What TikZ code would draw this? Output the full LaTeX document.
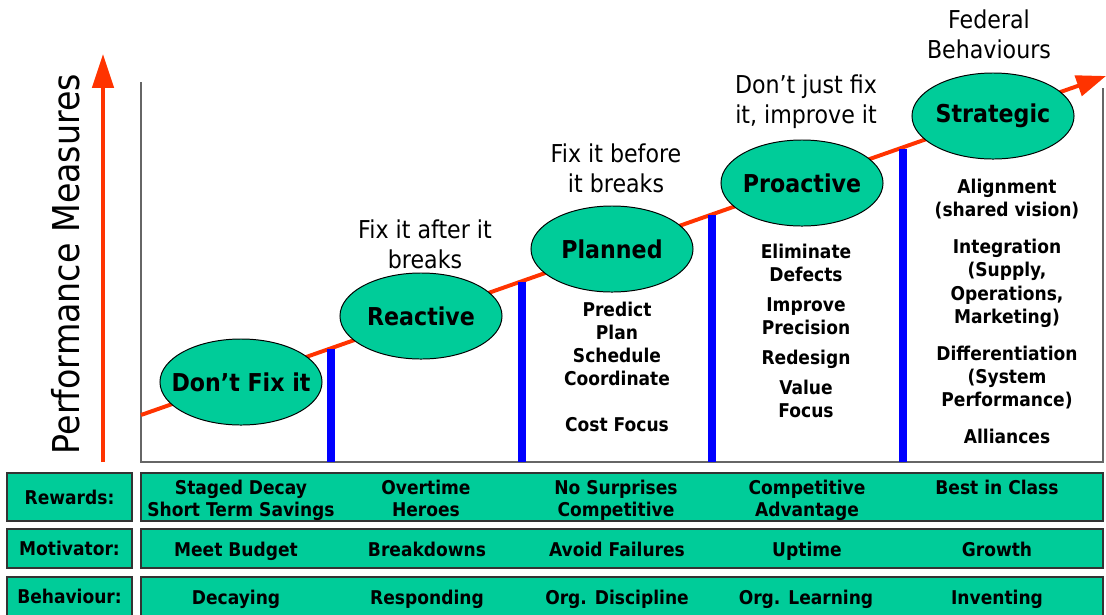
\documentclass[tikz,border=0pt]{standalone}
\usepackage{fontspec}
\setmainfont{DejaVu Sans}[FakeStretch=0.9]
\usetikzlibrary{shapes.geometric,arrows.meta}

\definecolor{stagegreen}{HTML}{00CC99}
\definecolor{trendred}{HTML}{FF3300}

% stage names take no room, so every ellipse keeps the same size
\newcommand\stagename[1]{\makebox[0pt]{#1}}

\begin{document}
\begin{tikzpicture}[
    x=0.025cm, y=-0.025cm,
    stage/.style={ellipse, draw, line width=0.7pt, fill=stagegreen, minimum width=4.05cm, minimum height=2.15cm, inner sep=0pt, font=\fontsize{17.5}{21}\selectfont\bfseries},
    note/.style={align=center, inner sep=0pt, font=\fontsize{17.5}{21.3}\selectfont},
    item/.style={align=center, inner sep=0pt, font=\fontsize{13.5}{16.4}\selectfont\bfseries},
    cellpair/.style={align=center, inner sep=0pt, font=\fontsize{13.5}{15.6}\selectfont\bfseries},
    cell/.style={inner sep=0pt, text height=0.93em, text depth=0.2em, font=\fontsize{13.5}{15.6}\selectfont\bfseries},
    rowlabel/.style={draw=black!80, line width=1.4pt, fill=stagegreen, minimum width=3.125cm, inner sep=0pt, font=\fontsize{13.5}{15.6}\selectfont\bfseries},
    rowbox/.style={draw=black!80, line width=1.4pt, fill=stagegreen, minimum width=24.05cm, inner sep=0pt},
    trend/.style={-{Triangle[length=21pt,width=15pt]}, line width=2.8pt, trendred},
    bar/.style={line width=6pt, blue},
    frame/.style={draw=black!60, line width=1pt}
]
    \useasboundingbox (0,0) rectangle (1106,614);

    % Axis and chart frame
    \node[rotate=90, inner sep=0pt, font=\fontsize{26.3}{30}\selectfont] (perf) at (66,264) {Performance Measures};
    \coordinate (ybase) at (103,462);
    \coordinate (ytip) at (103,54);
    \draw[trend, -{Triangle[length=24pt,width=15pt]}] (ybase) -- (ytip);
    \draw[frame] (141,82) -- (141,462) -- (1103,462) -- (1103,88);

    % Trend line
    \coordinate (trendstart) at (141,415);
    \coordinate (trendend) at (1106,76);
    \draw[trend] (trendstart) -- (trendend);

    % Step bars
    \draw[bar] (331,348.5) -- (331,462);
    \draw[bar] (522,281.6) -- (522,462);
    \draw[bar] (712,215) -- (712,462);
    \draw[bar] (903,148.5) -- (903,462);

    % Stages
    \node[stage] (dontfix) at (241,382) {\stagename{Don’t Fix it}};
    \node[stage] (reactive) at (421,316) {\stagename{Reactive}};
    \node[stage] (planned) at (612,249) {\stagename{Planned}};
    \node[stage] (proactive) at (802,183) {\stagename{Proactive}};
    \node[stage] (strategic) at (993,116) {\stagename{Strategic}};

    % Stage captions
    \node[note] (afterbreak) at (425,244) {Fix it after it\\breaks};
    \node[note] (beforebreak) at (616,168) {Fix it before\\it breaks};
    \node[note] (improve) at (806,102) {Don’t just fix\\it, improve it};
    \node[note] (federal) at (989,34) {Federal\\Behaviours};

    % Stage activities
    \node[item] (plannedlist) at (617,367) {Predict\\Plan\\Schedule\\Coordinate\\[16.4pt]Cost Focus};
    \node[item] (proactivelist) at (806,331) {Eliminate\\Defects\\[5pt]Improve\\Precision\\[5pt]Redesign\\[5pt]Value\\Focus};
    \node[item] (strategiclist) at (1007,311.5) {Alignment\\(shared vision)\\[10pt]Integration\\(Supply,\\Operations,\\Marketing)\\[10pt]Differentiation\\(System\\Performance)\\[10pt]Alliances};

    % Table rows
    \node[rowlabel, minimum height=1.2cm] (rewards) at (69.5,497) {Rewards:};
    \node[rowlabel, minimum height=0.975cm] (motivator) at (69.5,548.5) {Motivator:};
    \node[rowlabel, minimum height=0.975cm] (behaviour) at (69.5,596.5) {Behaviour:};
    \node[rowbox, minimum height=1.2cm] (rewardrow) at (622,497) {};
    \node[rowbox, minimum height=0.975cm] (motivatorrow) at (622,548.5) {};
    \node[rowbox, minimum height=0.975cm] (behaviourrow) at (622,596.5) {};

    % Rewards
    \node[cellpair] (rew1) at (241,500) {Staged Decay\\Short Term Savings};
    \node[cellpair] (rew2) at (426,498) {Overtime\\Heroes};
    \node[cellpair] (rew3) at (616,500) {No Surprises\\Competitive};
    \node[cellpair] (rew4) at (807,500) {Competitive\\Advantage};
    \node[cell] (rew5) at (997,489) {Best in Class};

    % Motivators
    \node[cell] (mot1) at (236,551) {Meet Budget};
    \node[cell] (mot2) at (427,551) {Breakdowns};
    \node[cell] (mot3) at (617,551) {Avoid Failures};
    \node[cell] (mot4) at (807,551) {Uptime};
    \node[cell] (mot5) at (997,551) {Growth};

    % Behaviours
    \node[cell] (beh1) at (236,599) {Decaying};
    \node[cell] (beh2) at (427,599) {Responding};
    \node[cell] (beh3) at (617,599) {Org. Discipline};
    \node[cell] (beh4) at (806,599) {Org. Learning};
    \node[cell] (beh5) at (997,599) {Inventing};
\end{tikzpicture}
\end{document}
